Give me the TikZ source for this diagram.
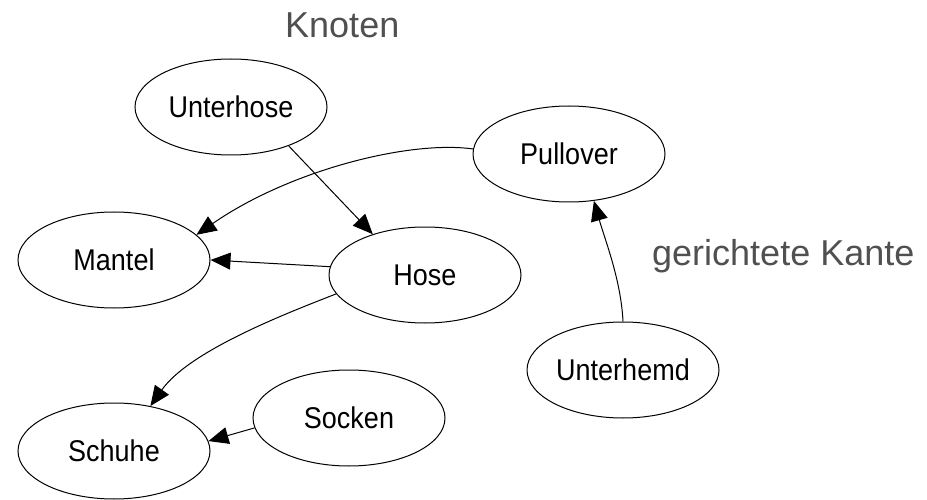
\documentclass[tikz,border=0pt]{standalone}
\usepackage{fontspec}
\setmainfont{Liberation Sans}
\usetikzlibrary{shapes.geometric,arrows.meta}
\definecolor{labelgray}{HTML}{505050}
\newcommand{\nodetxt}[1]{\scalebox{0.9}[1]{#1}}
\tikzset{
  knot/.style={draw=black, line width=1pt, ellipse, inner sep=0pt,
    minimum width=192pt, minimum height=96pt,
    font=\fontsize{30}{34}\selectfont},
  edge/.style={draw=black, line width=1pt,
    -{Triangle[length=20pt,width=17pt]}},
  biglabel/.style={text=labelgray, inner sep=0pt, anchor=base west,
    font=\fontsize{36}{40}\selectfont}
}
\begin{document}
\begin{tikzpicture}[x=1pt,y=-1pt]
\useasboundingbox (0,0) rectangle (927,500);
\node[knot] (unterhose) at (231,107) {\nodetxt{Unterhose}};
\node[knot] (pullover) at (569,154) {\nodetxt{Pullover}};
\node[knot] (mantel) at (114,260) {\nodetxt{Mantel}};
\node[knot] (hose) at (425,275) {\nodetxt{Hose}};
\node[knot] (schuhe) at (114,451) {\nodetxt{Schuhe}};
\node[knot] (socken) at (349,418) {\nodetxt{Socken}};
\node[knot] (unterhemd) at (623,370) {\nodetxt{Unterhemd}};

\node[biglabel] (knoten) at (285,38) {Knoten};
\node[biglabel] (kante) at (652,265) {gerichtete Kante};

\draw[edge] (unterhose.-34) -- (hose.142);
\draw[edge] (pullover.177) .. controls (410,140) and (290,170) .. (mantel.17);
\draw[edge] (hose.175) -- (mantel.east);
\draw[edge] (hose.192) .. controls (290,312) and (190,350) .. (schuhe.51);
\draw[edge] (socken.186) -- (schuhe.6);
\draw[edge] (unterhemd.north) .. controls (621,280) and (605,240) .. (pullover.-62);
\end{tikzpicture}
\end{document}
